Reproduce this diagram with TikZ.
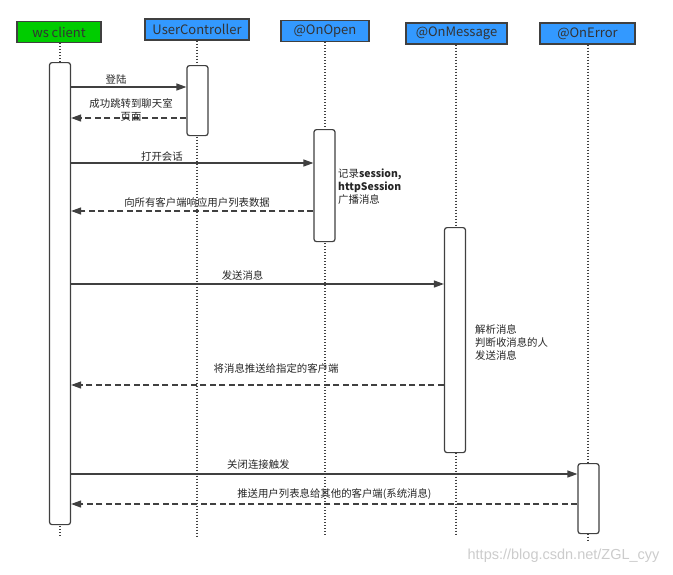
\documentclass[tikz,border=0pt]{standalone}
\usepackage{fontspec}
\setmainfont{Noto Sans CJK SC}
\newfontfamily\markfont{Liberation Sans}
\usetikzlibrary{arrows.meta,positioning,calc}
\definecolor{wsgreen}{RGB}{0,204,0}
\definecolor{hookblue}{RGB}{51,153,255}
\definecolor{linegray}{RGB}{64,64,64}

\begin{document}
\begin{tikzpicture}[x=1pt, y=-1pt, >={Triangle[length=10pt,width=7pt]},
  head/.style={draw=linegray, line width=1.4pt, minimum height=21pt, inner sep=0pt,
    font=\fontsize{13}{15}\selectfont, text=black!80},
  act/.style={draw=linegray, line width=1.2pt, fill=white, rounded corners=2.5pt,
    minimum width=21pt, inner sep=0pt, anchor=north},
  life/.style={linegray, line width=1.2pt, dash pattern=on 1.2pt off 1.8pt},
  msg/.style={->, linegray, line width=1.3pt},
  reply/.style={->, linegray, line width=1.3pt, dash pattern=on 6pt off 3.5pt},
  lbl/.style={font=\fontsize{10.4}{13}\selectfont, text=black!85, inner sep=0pt},
  note/.style={lbl, align=left, anchor=west}]

  \path[use as bounding box, fill=white] (0,0) rectangle (673,574);

  % Define the participants
  \node[head, fill=wsgreen, minimum width=84pt] (ws) at (59,32) {ws client};
  \node[head, fill=hookblue, minimum width=104pt] (uc) at (197,29.5) {UserController};
  \node[head, fill=hookblue, minimum width=88pt] (open) at (325,31) {@OnOpen};
  \node[head, fill=hookblue, minimum width=101pt] (onmsg) at (456.5,33.5) {@OnMessage};
  \node[head, fill=hookblue, minimum width=95pt] (err) at (587.5,33.5) {@OnError};

  % Lifelines
  \coordinate (wsend) at (60,538);
  \coordinate (ucend) at (197,537);
  \coordinate (openend) at (325,537);
  \coordinate (onmsgend) at (456,536);
  \coordinate (errend) at (588,542);
  \draw[life] (wsend |- ws.south) -- (wsend);
  \draw[life] (ucend |- uc.south) -- (ucend);
  \draw[life] (openend |- open.south) -- (openend);
  \draw[life] (onmsgend |- onmsg.south) -- (onmsgend);
  \draw[life] (errend |- err.south) -- (errend);

  % Activation boxes
  \node[act, minimum height=462pt] (wsact) at (60,62) {};
  \node[act, minimum height=70pt] (ucact) at (197.5,65) {};
  \node[act, minimum height=112pt] (openact) at (324.5,129) {};
  \node[act, minimum height=225pt] (onmsgact) at (455,227) {};
  \node[act, minimum height=70pt] (erract) at (588.5,463) {};

  % Notes
  \node[note] (opennote) at (338,187) {记录\textbf{session,}\\\textbf{httpSession}\\广播消息};
  \node[note] (onmsgnote) at (475,343) {解析消息\\判断收消息的人\\发送消息};

  % Define message levels
  \coordinate (m1) at (0,87);
  \coordinate (m2) at (0,118);
  \coordinate (m3) at (0,163);
  \coordinate (m4) at (0,211);
  \coordinate (m5) at (0,284);
  \coordinate (m6) at (0,385);
  \coordinate (m7) at (0,474);
  \coordinate (m8) at (0,504);

  % Draw arrows between nodes
  \draw[msg] (wsact.east |- m1) to node[lbl, above=2pt, pos=0.39] {登陆} (ucact.west |- m1);
  \draw[reply] (ucact.west |- m2) to node[lbl, align=center, pos=0.48, yshift=7.5pt] {成功跳转到聊天室\\页面} (wsact.east |- m2);
  \draw[msg] (wsact.east |- m3) to node[lbl, above=1pt, pos=0.375] {打开会话} (openact.west |- m3);
  \draw[reply] (openact.west |- m4) to node[lbl, above=3pt, pos=0.48] {向所有客户端响应用户列表数据} (wsact.east |- m4);
  \draw[msg] (wsact.east |- m5) to node[lbl, above=3pt, pos=0.46] {发送消息} (onmsgact.west |- m5);
  \draw[reply] (onmsgact.west |- m6) to node[lbl, above=11pt, pos=0.45] {将消息推送给指定的客户端} (wsact.east |- m6);
  \draw[msg] (wsact.east |- m7) to node[lbl, above=4pt, pos=0.37] {关闭连接触发} (erract.west |- m7);
  \draw[reply] (erract.west |- m8) to node[lbl, above=4pt, pos=0.48] {推送用户列表息给其他的客户端(系统消息)} (wsact.east |- m8);

  % Watermark
  \node[font=\markfont\fontsize{14.5}{16}\selectfont, text=black!20, anchor=east] (mark) at (663,556) {https://blog.csdn.net/ZGL\_cyy};
\end{tikzpicture}
\end{document}
